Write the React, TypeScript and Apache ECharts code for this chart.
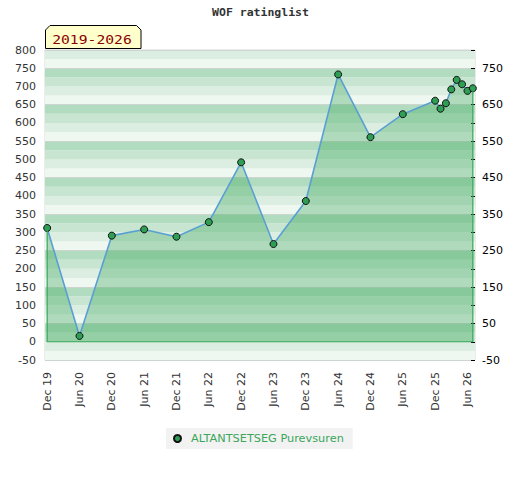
import React, { useEffect, useRef } from "react";
import * as echarts from "echarts";

// months since Dec 2019
const months = [0, 6, 12, 18, 24, 30, 36, 42, 48, 54, 60, 66, 72, 73, 74, 75, 76, 77, 78, 79];
const ratings = [312, 16, 291, 308, 288, 328, 492, 268, 386, 733, 561, 624, 661, 639, 654, 692, 718, 706, 688, 695];
const xTickMonths = [0, 6, 12, 18, 24, 30, 36, 42, 48, 54, 60, 66, 72, 78];
const xTickLabels = [
  "Dec 19", "Jun 20", "Dec 20", "Jun 21", "Dec 21", "Jun 22", "Dec 22",
  "Jun 23", "Dec 23", "Jun 24", "Dec 24", "Jun 25", "Dec 25", "Jun 26",
];
const playerName = "ALTANTSETSEG Purevsuren";
const chartTitle = "WOF ratinglist";
const periodLabel = "2019-2026";
const bandColors = ["#eff7f1", "#dcede1", "#c7e5d0", "#b2dcbf"];

export default function App() {
  const ref = useRef<HTMLDivElement>(null);
  useEffect(() => {
    document.body.style.margin = "0";
    const chart = echarts.init(ref.current!, null, { renderer: "svg" });
    const first = 0;
    const last = months.length - 1;
    const yBase = { type: "value", min: -50, max: 800 } as any;
    chart.setOption({
      animation: false,
      grid: {
        left: 45, right: 45, top: 50, bottom: 120,
        show: true, borderColor: "#d8d8d8", borderWidth: 1, backgroundColor: "transparent",
      },
      graphic: [
        {
          type: "text",
          x: 260.5, y: 13,
          scaleX: 1.15,
          style: {
            text: chartTitle, fontFamily: "DejaVu Sans Mono", fontSize: 10, fontWeight: "bold",
            fill: "#333", textAlign: "center", textVerticalAlign: "middle",
          },
        },
        {
          type: "polygon",
          shape: { points: [[45.5, 48.5], [45.5, 30], [50, 25.5], [136.5, 25.5], [141, 30], [141, 48.5]] },
          style: { fill: "#ffffcc", stroke: "#000", lineWidth: 1 },
          z: 10,
        },
        {
          type: "text",
          x: 92, y: 40.5,
          scaleX: 1.28,
          z: 11,
          style: {
            text: periodLabel, fontFamily: "DejaVu Sans Mono", fontSize: 11.5,
            fill: "#8b0000", textAlign: "center", textVerticalAlign: "middle",
          },
        },
      ],
      legend: {
        data: [{ name: playerName, icon: "circle" }],
        left: 166, top: 428,
        itemWidth: 17, itemHeight: 7,
        padding: [5, 9, 5, 7],
        backgroundColor: "#f2f2f2",
        textStyle: { color: "#3aa65a", fontSize: 11.3, fontFamily: "DejaVu Sans" },
      },
      xAxis: {
        type: "value", min: -0.4, max: 79.4,
        axisLine: { show: false }, axisTick: { show: false }, splitLine: { show: false },
        axisLabel: {
          customValues: xTickMonths,
          rotate: 90, margin: 12, fontSize: 11, color: "#333", fontFamily: "DejaVu Sans",
          formatter: (v: number) => {
            const i = xTickMonths.indexOf(v);
            return i >= 0 ? xTickLabels[i] : "";
          },
        },
      },
      yAxis: [
        {
          ...yBase, position: "left", interval: 50,
          axisLine: { show: false }, axisTick: { show: false }, splitLine: { show: false },
          axisLabel: { color: "#333", fontSize: 11, margin: 9, fontFamily: "DejaVu Sans" },
        },
        {
          ...yBase, position: "right", interval: 50,
          axisLine: { show: false },
          axisTick: { show: true, inside: true, length: 4, lineStyle: { color: "#000" } },
          splitLine: { show: false },
          axisLabel: {
            color: "#000", fontSize: 11, margin: 7, fontFamily: "DejaVu Sans",
            formatter: (v: number) => ((v + 50) % 100 === 0 ? String(v) : ""),
          },
        },
        {
          ...yBase, position: "left", interval: 25,
          axisLine: { show: false }, axisTick: { show: false }, axisLabel: { show: false },
          splitLine: { show: false },
          splitArea: { show: true, areaStyle: { color: bandColors } },
        },
        {
          ...yBase, position: "left", interval: 100,
          axisLine: { show: false }, axisTick: { show: false }, axisLabel: { show: false },
          splitLine: { show: true, lineStyle: { color: "#ccd5cf", width: 1 } },
        },
      ],
      series: [
        {
          type: "line",
          name: playerName,
          data: months.map((m, i) => [m, ratings[i]]),
          yAxisIndex: 0,
          symbol: "circle",
          symbolSize: 7,
          itemStyle: { color: "#2f9e55", borderColor: "#111", borderWidth: 1 },
          lineStyle: { color: "#5a9fd4", width: 1.6 },
          areaStyle: { color: "rgba(58,166,90,0.5)" },
          z: 3,
        },
        {
          type: "line",
          name: "outline",
          data: [
            [months[first], ratings[first]],
            [months[first], 0],
            [months[last], 0],
            [months[last], ratings[last]],
          ],
          yAxisIndex: 0,
          symbol: "none",
          silent: true,
          lineStyle: { color: "#33a857", width: 1.2 },
          z: 4,
        },
      ],
    });
    return () => chart.dispose();
  }, []);
  return <div ref={ref} style={{ width: 520, height: 480 }} />;
}
